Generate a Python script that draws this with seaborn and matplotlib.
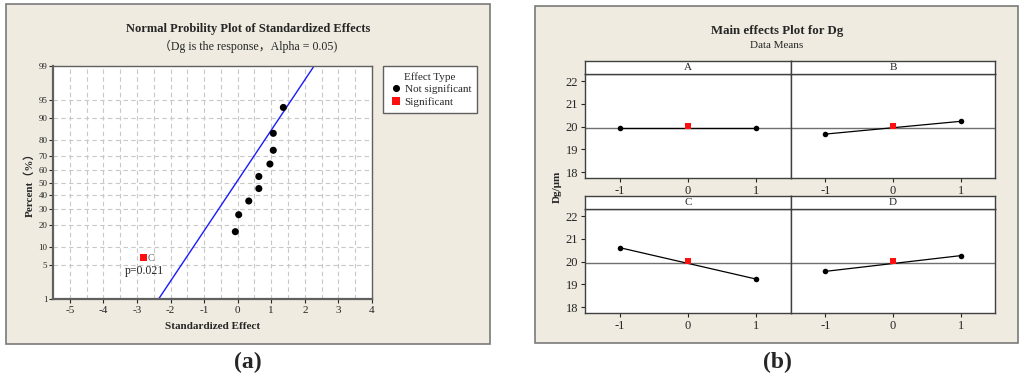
import seaborn as sns
import matplotlib.pyplot as plt
import numpy as np
import pandas as pd
from matplotlib.patches import Rectangle
from statistics import NormalDist

# ---- data: normal probability plot (a) ----
effect_values = [-2.81, -0.07, 0.03, 0.33, 0.63, 0.63, 0.96, 1.06, 1.06, 1.36]
effect_percent = [6.7, 16.3, 26.0, 35.6, 45.2, 54.8, 64.4, 74.0, 83.7, 93.3]
effect_type = ['Significant'] + ['Not significant'] * 9
fit_mean = -0.04
fit_sd = 0.995
prob_ticks = [1, 5, 10, 20, 30, 40, 50, 60, 70, 80, 90, 95, 99]
x_ticks_a = [-5, -4, -3, -2, -1, 0, 1, 2, 3, 4]

# ---- data: main effects plot (b) ----
factors = ['A', 'B', 'C', 'D']
levels = [-1, 1]
mean_low = [19.95, 19.67, 20.61, 19.57]
mean_high = [19.95, 20.23, 19.23, 20.26]
center_mean = 20.02
grand_mean = 19.94
y_ticks_b = [18, 19, 20, 21, 22]

W, H = 1024, 378
BG = '#efebe0'
EDGE = '#7a7a7a'

sns.set_style('white')
plt.rcParams['font.family'] = ['Liberation Serif', 'Noto Sans CJK SC', 'DejaVu Sans']
plt.rcParams['axes.unicode_minus'] = False

fig = plt.figure(figsize=(W / 100, H / 100), dpi=100)
fig.patch.set_facecolor('white')


def rect(l, t, r, b):
    return [l / W, 1 - b / H, (r - l) / W, (b - t) / H]


# outer beige frames (drawn behind all axes)
for l, t, r, b in [(6, 4, 490, 344), (535, 6, 1018, 343)]:
    fig.patches.append(Rectangle((l / W, 1 - b / H), (r - l) / W, (b - t) / H,
                                 transform=fig.transFigure, facecolor=BG,
                                 edgecolor=EDGE, linewidth=1.2, zorder=-5))

# ================= (a) =================
nd = NormalDist()
_ppf = np.vectorize(lambda p: nd.inv_cdf(p), otypes=[float])
_cdf = np.vectorize(lambda z: nd.cdf(z), otypes=[float])


def fwd(p):
    p = np.clip(np.asarray(p, dtype=float), 1e-4, 100 - 1e-4)
    return _ppf(p / 100)


def inv(z):
    return _cdf(np.asarray(z, dtype=float)) * 100


ax = fig.add_axes(rect(53, 66, 372, 299))
ax.set_facecolor('white')
ax.set_yscale('function', functions=(fwd, inv))
ax.set_xlim(-5.5, 4)
ax.set_ylim(1, 99)

# grid
for gx in np.arange(-5.5, 4.01, 0.5)[1:-1]:
    ax.axvline(gx, color='#c8c8c8', lw=0.8, ls=(0, (4, 3)), zorder=0)
for gy in prob_ticks[1:-1]:
    ax.axhline(gy, color='#c8c8c8', lw=0.8, ls=(0, (4, 3)), zorder=0)

# fitted normal line
z = np.linspace(-3, 3, 50)
line_df = pd.DataFrame({'x': fit_mean + fit_sd * z, 'p': inv(z)})
sns.lineplot(data=line_df, x='x', y='p', color='#1a1aff', lw=1.0, sort=False,
             estimator=None, ax=ax, zorder=2)

eff_df = pd.DataFrame({'effect': effect_values, 'percent': effect_percent,
                       'Effect Type': effect_type})
sns.scatterplot(data=eff_df, x='effect', y='percent', hue='Effect Type',
                style='Effect Type',
                hue_order=['Not significant', 'Significant'],
                style_order=['Not significant', 'Significant'],
                palette={'Not significant': 'black', 'Significant': '#ff1010'},
                markers={'Not significant': 'o', 'Significant': 's'},
                s=26, linewidth=0, ax=ax, zorder=3)

sig = eff_df[eff_df['Effect Type'] == 'Significant'].iloc[0]
ax.text(sig['effect'] + 0.12, sig['percent'] * 0.95, 'C', fontsize=7.5,
        color='#606060', va='center', ha='left')
ax.text(sig['effect'] + 0.02, sig['percent'] * 0.57, 'p=0.021', fontsize=8.5,
        va='center', ha='center')

ax.set_xticks(x_ticks_a)
ax.set_xticklabels([str(v) for v in x_ticks_a])
ax.set_yticks(prob_ticks)
ax.set_yticklabels([str(v) for v in prob_ticks])
ax.yaxis.set_minor_locator(plt.NullLocator())
ax.tick_params(axis='x', labelsize=8, length=3, width=0.8, direction='out',
               bottom=True, pad=2)
ax.tick_params(axis='y', labelsize=6.5, length=3, width=0.8, direction='out',
               left=True, pad=1)
ax.set_xlabel('Standardized Effect', fontsize=8, fontweight='bold', labelpad=5)
ax.set_ylabel('Percent（%）', fontsize=8, fontweight='bold', labelpad=3)
for side, sp in ax.spines.items():
    sp.set_color('#606060')
    sp.set_linewidth(1.6 if side in ('left', 'bottom') else 1.0)

handles, labels = ax.get_legend_handles_labels()
ax.legend(handles, labels, title='Effect Type', loc='upper left',
          bbox_to_anchor=(383 / W, 1 - 66 / H),
          bbox_transform=fig.transFigure, fontsize=8,
          title_fontsize=8, frameon=True, fancybox=False, edgecolor='#606060',
          framealpha=1, borderpad=0.55, handletextpad=0.1, handlelength=1.3,
          labelspacing=0.25, markerscale=1.0, borderaxespad=0)

fig.text(248 / W, 1 - 29 / H, 'Normal Probility Plot of Standardized Effects',
         ha='center', va='center', fontsize=9, fontweight='bold')
fig.text(248 / W, 1 - 46 / H, '（Dg is the response，Alpha = 0.05)',
         ha='center', va='center', fontsize=8.6)

# ================= (b) =================
main_df = pd.DataFrame({
    'factor': np.repeat(factors, 2),
    'level': levels * len(factors),
    'mean': [v for pair in zip(mean_low, mean_high) for v in pair],
})

cols = [(585, 791), (791, 995)]
rows = [(61, 74, 178), (196, 209, 313)]
for i, fac in enumerate(factors):
    r, c = divmod(i, 2)
    l, rr = cols[c]
    st, at, ab = rows[r]
    bx = fig.add_axes(rect(l, at, rr, ab))
    bx.set_facecolor('white')
    bx.axhline(grand_mean, color='#707070', lw=1.0, zorder=1)
    sub = main_df[main_df['factor'] == fac]
    sns.lineplot(data=sub, x='level', y='mean', color='black', lw=0.9,
                 marker='o', markersize=4, markeredgewidth=0, ax=bx, zorder=3)
    sns.scatterplot(x=[0], y=[center_mean], marker='s', color='#ff1010', s=14,
                    linewidth=0, ax=bx, zorder=4)
    bx.set_xlim(-1.51, 1.51)
    bx.set_ylim(17.74, 22.31)
    bx.set_xticks([-1, 0, 1])
    bx.set_xticklabels(['-1', '0', '1'])
    bx.set_yticks(y_ticks_b)
    bx.set_xlabel('')
    bx.set_ylabel('')
    if c == 0:
        bx.tick_params(axis='y', labelsize=9, length=3, width=0.8, left=True, pad=2)
    else:
        bx.tick_params(axis='y', left=False, labelleft=False)
    bx.tick_params(axis='x', labelsize=9, length=3, width=0.8, bottom=True, pad=2)
    for sp in bx.spines.values():
        sp.set_color('#404040')
        sp.set_linewidth(1.0)

    strip = fig.add_axes(rect(l, st, rr, at))
    strip.set_facecolor('white')
    strip.set_xticks([])
    strip.set_yticks([])
    for sp in strip.spines.values():
        sp.set_color('#404040')
        sp.set_linewidth(1.0)
    strip.text(0.5, 0.5, fac, ha='center', va='center', fontsize=8,
               transform=strip.transAxes)

fig.text(777 / W, 1 - 31 / H, 'Main effects Plot for Dg', ha='center',
         va='center', fontsize=9.3, fontweight='bold')
fig.text(777 / W, 1 - 46 / H, 'Data Means', ha='center', va='center', fontsize=8)
fig.text(557 / W, 1 - 187 / H, 'Dg/μm', ha='center', va='center', fontsize=8,
         fontweight='bold', rotation=90)

# panel labels
fig.text(248 / W, 1 - 362 / H, '(a)', ha='center', va='center', fontsize=17,
         fontweight='bold')
fig.text(777 / W, 1 - 362 / H, '(b)', ha='center', va='center', fontsize=17,
         fontweight='bold')

fig.savefig('out.png', dpi=100)
plt.close(fig)
